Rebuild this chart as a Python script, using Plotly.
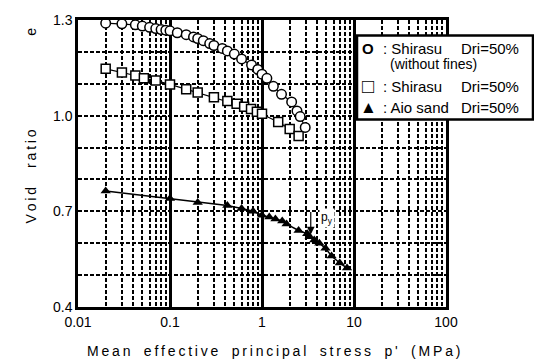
import plotly.graph_objects as go

# Shirasu Dri=50% (without fines)
p_circ = [0.02, 0.03, 0.042, 0.05, 0.06, 0.07, 0.08, 0.09, 0.1, 0.12, 0.15, 0.18, 0.2, 0.23,
          0.27, 0.3, 0.37, 0.42, 0.5, 0.6, 0.77, 0.9, 1.0, 1.13, 1.33, 1.63, 2.1, 2.4, 2.6, 2.95]
e_circ = [1.29, 1.288, 1.285, 1.281, 1.277, 1.273, 1.27, 1.268, 1.266, 1.26, 1.254, 1.247, 1.242, 1.235,
          1.226, 1.22, 1.211, 1.203, 1.193, 1.178, 1.159, 1.145, 1.13, 1.117, 1.092, 1.067, 1.043, 1.015, 0.997, 0.963]

# Shirasu Dri=50%
p_sq = [0.02, 0.03, 0.042, 0.052, 0.07, 0.1, 0.15, 0.2, 0.3, 0.42, 0.53, 0.64, 0.76, 0.88, 1.0,
        1.5, 2.0, 2.5]
e_sq = [1.147, 1.135, 1.126, 1.117, 1.11, 1.098, 1.083, 1.073, 1.058, 1.046, 1.037, 1.028, 1.021, 1.012, 1.006,
        0.98, 0.958, 0.936]

# Aio sand Dri=50%
p_tri = [0.02, 0.1, 0.2, 0.42, 0.6, 0.8, 1.0, 1.2, 1.4, 1.66, 1.85, 2.5, 3.1, 3.3, 3.7, 4.2, 4.9, 5.7, 7.0, 8.4]
e_tri = [0.764, 0.74, 0.728, 0.718, 0.709, 0.7, 0.688, 0.682, 0.676, 0.67, 0.66, 0.64, 0.63, 0.62, 0.61, 0.6,
         0.584, 0.56, 0.538, 0.522]

x_ticks = [0.01, 0.1, 1, 10, 100]
x_tick_labels = ["0.01", "0.1", "1", "10", "100"]
y_ticks = [0.4, 0.7, 1.0, 1.3]
y_tick_labels = ["0.4", "0.7", "1.0", "1.3"]

FONT = "Liberation Sans, Arial, sans-serif"
TS = "\u2009"  # thin space


def spaced(s, sep):
    return sep.join(list(s))


GRID_DASH = "4px,2px"

fig = go.Figure()
fig.add_trace(go.Scatter(x=p_tri, y=e_tri, mode="lines+markers",
                         line=dict(color="black", width=1.5),
                         marker=dict(symbol="triangle-up", size=9, color="black")))
fig.add_trace(go.Scatter(x=p_sq, y=e_sq, mode="lines+markers",
                         line=dict(color="black", width=1.2),
                         marker=dict(symbol="square", size=9, color="white",
                                     line=dict(color="black", width=1.5))))
fig.add_trace(go.Scatter(x=p_circ, y=e_circ, mode="lines+markers",
                         line=dict(color="black", width=1.2),
                         marker=dict(symbol="circle", size=9.5, color="white",
                                     line=dict(color="black", width=1.5))))

fig.update_layout(
    width=534, height=362,
    margin=dict(l=78, r=88, t=13, b=55),
    paper_bgcolor="white", plot_bgcolor="white",
    showlegend=False,
    font=dict(family=FONT, color="black", size=14),
    xaxis=dict(type="log", range=[-2, 2], tickvals=x_ticks, ticktext=x_tick_labels,
               showgrid=True, gridcolor="black", gridwidth=2.5,
               showline=True, linecolor="black", linewidth=2.5, mirror=True,
               ticks="", zeroline=False, tickfont=dict(size=14),
               minor=dict(dtick="D1", showgrid=True, gridcolor="black", gridwidth=1.5,
                          griddash=GRID_DASH, ticks="")),
    yaxis=dict(range=[0.4, 1.3], tickvals=y_ticks, ticktext=y_tick_labels,
               showgrid=True, gridcolor="black", gridwidth=1.5, griddash=GRID_DASH,
               showline=True, linecolor="black", linewidth=2.5, mirror=True,
               ticks="", zeroline=False, tickfont=dict(size=14),
               minor=dict(dtick=0.1, showgrid=True, gridcolor="black", gridwidth=1.5,
                          griddash=GRID_DASH, ticks="")),
)


def px(x):
    return (x - 78) / 368.0


def py(y):
    return (307 - y) / 294.0


# axis titles
xtitle = "Mean effective principal stress p' (MPa)"
fig.add_annotation(x=px(273), y=py(352), xref="paper", yref="paper",
                   text=spaced(xtitle, TS).replace(" ", "  "), showarrow=False,
                   xanchor="center", yanchor="middle", font=dict(size=14))
for word, yc in [("Void", 203), ("ratio", 144), ("e", 25)]:
    fig.add_annotation(x=px(31), y=py(yc), xref="paper", yref="paper",
                       text=spaced(word, TS), showarrow=False, textangle=-90,
                       xanchor="center", yanchor="middle", font=dict(size=14))

# legend box
fig.add_shape(type="rect", xref="paper", yref="paper", x0=px(357), x1=px(533), y0=py(115), y1=py(29),
              fillcolor="white", line=dict(color="black", width=2.5), layer="above")

legend_rows = [
    ("<b>O</b>", 15, ": Shirasu", "Dri=50%", 42),
    ("\u25A1", 20, ": Shirasu", "Dri=50%", 81),
    ("\u25B2", 17, ": Aio sand", "Dri=50%", 103),
]
for sym, ssz, name, dri, yy in legend_rows:
    fig.add_annotation(x=px(368), y=py(yy), xref="paper", yref="paper", text=sym, showarrow=False,
                       xanchor="center", yanchor="middle", font=dict(size=ssz))
    fig.add_annotation(x=px(381), y=py(yy), xref="paper", yref="paper", text=name,
                       showarrow=False, xanchor="left", yanchor="middle", font=dict(size=15))
    fig.add_annotation(x=px(459), y=py(yy), xref="paper", yref="paper", text=dri,
                       showarrow=False, xanchor="left", yanchor="middle", font=dict(size=15))
fig.add_annotation(x=px(388), y=py(58.5), xref="paper", yref="paper", text="(without fines)",
                   showarrow=False, xanchor="left", yanchor="middle", font=dict(size=14))

# py arrow
fig.add_annotation(x=0.53, y=0.627, ax=0.53, ay=0.703, xref="x", yref="y", axref="x", ayref="y",
                   text="", showarrow=True, arrowhead=2, arrowsize=1.3, arrowwidth=1.2, arrowcolor="black")
fig.add_annotation(x=0.71, y=0.680, xref="x", yref="y", text="p<sub>y</sub>", showarrow=False,
                   bgcolor="white", font=dict(size=12))

fig.write_html("out.html")
